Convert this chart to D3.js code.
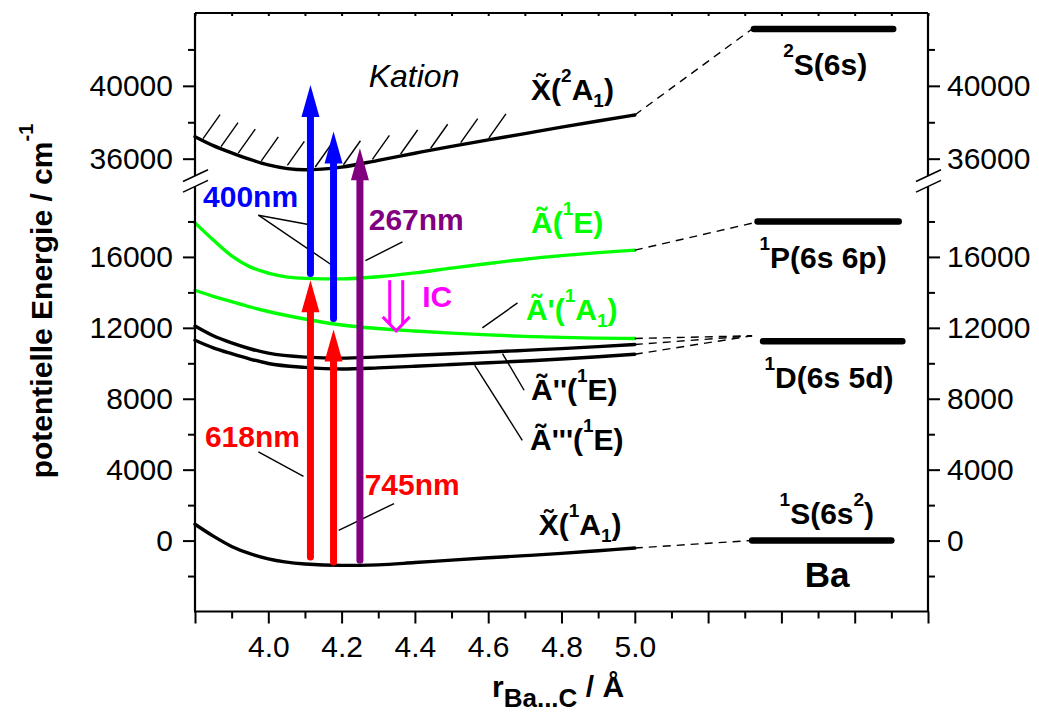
<!DOCTYPE html>
<html><head><meta charset="utf-8">
<script src="https://d3js.org/d3.v7.min.js"></script>
<style>
body{margin:0;background:#fff;}
svg{display:block;}
text{font-family:"Liberation Sans",Arial,Helvetica,sans-serif;}
</style></head>
<body>
<svg id="chart" width="1039" height="715"></svg>
<script>
// ---------------- data ----------------
const rGrid   = [3.8, 3.85, 3.9, 3.95, 4.0, 4.1, 4.2, 4.3, 4.4, 4.5, 4.6, 4.7, 4.8, 4.9, 5.0];
const eCation = [37210,36720,36320,35960,35660,35390,35540,35910,36300,36680,37030,37380,37730,38070,38400];
const eA      = [17920,16950,16060,15440,15090,14790,14760,14880,15100,15370,15630,15870,16070,16240,16380];
const eA1     = [14120,13780,13480,13180,12920,12500,12160,11960,11820,11700,11600,11520,11460,11420,11400];
const eA2     = [12100,11550,11150,10820,10570,10350,10290,10360,10450,10540,10630,10730,10830,10940,11060];
const eA3     = [11300,10870,10540,10240, 9990, 9770, 9680, 9740, 9830, 9930,10030,10130,10240,10370,10510];
const eX      = [  920,  250, -330, -740,-1030,-1320,-1400,-1370,-1240,-1100, -970, -850, -720, -570, -420];

// atomic Ba / Ba+ levels
const levelE  = [43120, 18000, 11250, 0];
const levelR0 = [5.325, 5.335, 5.35, 5.32];
const levelR1 = [5.705, 5.72, 5.73, 5.70];

// correlation (dashed) lines: from end of each curve to these points
const corrEndR = [5.32, 5.33, 5.32, 5.32, 5.32, 5.315];
const corrEndE = [43120, 17950, 11550, 11550, 11550, 0];

// excitation arrows
const arrowR    = [4.115, 4.178, 4.115, 4.178, 4.25];
const arrowFrom = [15060, 12520, -925, -1207, -1111];
const arrowTo   = [40050, 37490, 14690, 11900, 36570];

// IC arrow
const icR = 4.349, icFrom = 14690, icTo = 11830;

// hatch positions along the cation curve
const hatchR = [3.822,3.871,3.918,3.981,4.052,4.128,4.205,4.284,4.361,4.443,4.525,4.602];

// leader lines [r1, E1, r2, E2]
const leaders = [
  [3.973,18353,4.106,17845],
  [3.973,18353,4.174,15532],
  [4.366,16846,4.265,15790],
  [3.973, 4999,4.096, 3628],
  [4.343, 2087,4.192,  581],
  [4.680,13405,4.584,11995],
  [4.698, 8480,4.639,10550],
  [4.693, 5659,4.563, 9890]
];

// axis ticks
const xMajor   = [3.8,4.0,4.2,4.4,4.6,4.8,5.0,5.2,5.4,5.6,5.8];
const xMinor   = [3.9,4.1,4.3,4.5,4.7,4.9,5.1,5.3,5.5,5.7];
const xLabeled = [4.0,4.2,4.4,4.6,4.8,5.0];
const yLoMajor = [0,4000,8000,12000,16000];
const yLoMinor = [-2000,2000,6000,10000,14000,18000];
const yUpMajor = [36000,40000];
const yUpMinor = [38000,42000];

// text labels: parts [text, kind], position in data units
const labels = [
  {parts:[["400nm"]], r:3.822, E:18821, c:"#0000ff"},
  {parts:[["267nm"]], r:4.274, E:17506, c:"#800080"},
  {parts:[["618nm"]], r:3.827, E:5281,  c:"#ff0000"},
  {parts:[["745nm"]], r:4.263, E:2556,  c:"#ff0000"},
  {parts:[["IC"]],    r:4.420, E:13180, c:"#ff00ff"},
  {parts:[["X\u0303("],["2","sup"],["A"],["1","sub"],[")"]], r:4.717, E:39223, c:"#000"},
  {parts:[["\u00C3("],["1","sup"],["E)"]], r:4.717, E:17332, c:"#00ff00"},
  {parts:[["\u00C3'("],["1","sup"],["A"],["1","sub"],[")"]], r:4.703, E:12430, c:"#00ff00"},
  {parts:[["\u00C3''("],["1","sup"],["E)"]], r:4.717, E:7915, c:"#000"},
  {parts:[["\u00C3'''("],["1","sup"],["E)"]], r:4.714, E:5094, c:"#000"},
  {parts:[["X\u0303("],["1","sup"],["A"],["1","sub"],[")"]], r:4.738, E:299, c:"#000"},
  {parts:[["2","sup"],["S(6s)"]], r:5.405, E:40596, c:"#000"},
  {parts:[["1","sup"],["P(6s 6p)"]], r:5.340, E:15363, c:"#000"},
  {parts:[["1","sup"],["D(6s 5d)"]], r:5.354, E:8592, c:"#000"},
  {parts:[["1","sup"],["S(6s"],["2","sup"],[")"]], r:5.395, E:920, c:"#000"}
];

// ---------------- scales ----------------
const svg = d3.select("#chart");
const x   = d3.scaleLinear().domain([3.8, 5.8]).range([195, 928]);
const yLo = d3.scaleLinear().domain([-4000, 20000]).range([611.5, 186]);
const yUp = d3.scaleLinear().domain([34500, 44000]).range([186, 13]);
const yE  = v => v >= 25000 ? yUp(v) : yLo(v);
const X0 = x.range()[0], X1 = x.range()[1], Ytop = yUp.range()[1], Ybot = yLo.range()[0];
const breakY = 181.5;

// ---------------- curves ----------------
const line = (arr) => d3.line().x((d,i)=>x(rGrid[i])).y(d=>yE(d)).curve(d3.curveMonotoneX)(arr);
const curves = [
  {e:eCation, c:"#000"},
  {e:eA, c:"#00ff00"},
  {e:eA1, c:"#00ff00"},
  {e:eA2, c:"#000"},
  {e:eA3, c:"#000"},
  {e:eX, c:"#000"}
];
const gC = svg.append("g");
curves.forEach(cv => {
  gC.append("path").attr("d", line(cv.e)).attr("fill","none").attr("stroke",cv.c).attr("stroke-width",3.4).attr("stroke-linecap","round");
});

// hatching above cation curve
const cationAt = d3.scaleLinear().domain(rGrid).range(eCation);
hatchR.forEach(r => {
  const px = x(r), py = yUp(cationAt(r)) - 2;
  gC.append("line").attr("x1",px).attr("y1",py).attr("x2",px+17).attr("y2",py-24)
    .attr("stroke","#000").attr("stroke-width",1.4);
});

// correlation dashed lines
curves.forEach((cv,i) => {
  gC.append("line")
    .attr("x1", x(rGrid[rGrid.length-1])).attr("y1", yE(cv.e[cv.e.length-1]))
    .attr("x2", x(corrEndR[i])).attr("y2", yE(corrEndE[i]))
    .attr("stroke","#000").attr("stroke-width",1.4).attr("stroke-dasharray","8,6");
});

// atomic levels
levelE.forEach((e,i) => {
  gC.append("line").attr("x1",x(levelR0[i])).attr("x2",x(levelR1[i]))
    .attr("y1",yE(e)).attr("y2",yE(e))
    .attr("stroke","#000").attr("stroke-width",6.5).attr("stroke-linecap","round");
});

// leader lines
leaders.forEach(l => {
  gC.append("line").attr("x1",x(l[0])).attr("y1",yE(l[1])).attr("x2",x(l[2])).attr("y2",yE(l[3]))
    .attr("stroke","#000").attr("stroke-width",1.4);
});

// arrows
const arrowColors = ["#0000ff","#0000ff","#ff0000","#ff0000","#800080"];
const gA = svg.append("g");
arrowR.forEach((r,i) => {
  const px = x(r), y0 = yE(arrowFrom[i]), y1 = yE(arrowTo[i]);
  gA.append("line").attr("x1",px).attr("x2",px).attr("y1",y0).attr("y2",y1+28)
    .attr("stroke",arrowColors[i]).attr("stroke-width",7).attr("stroke-linecap","round");
  gA.append("path").attr("d",`M${px},${y1} L${px+9},${y1+32} L${px-9},${y1+32} Z`).attr("fill",arrowColors[i]);
});

// IC hollow arrow
{
  const px = x(icR), y0 = yE(icFrom), y1 = yE(icTo);
  const g = svg.append("g").attr("stroke","#ff00ff").attr("stroke-width",3).attr("fill","none");
  g.append("line").attr("x1",px-6.5).attr("x2",px-6.5).attr("y1",y0).attr("y2",y1-7);
  g.append("line").attr("x1",px+6.5).attr("x2",px+6.5).attr("y1",y0).attr("y2",y1-7);
  g.append("path").attr("d",`M${px-13.5},${y1-14} L${px},${y1} L${px+13.5},${y1-14}`);
}

// ---------------- axes ----------------
const gAx = svg.append("g");
const fmtY = d3.format("d");
function styleAxis(g, size){
  g.select(".domain").remove();
  g.selectAll(".tick line").attr("stroke","#000").attr("stroke-width",2);
  g.selectAll("text").attr("font-size",size).attr("fill","#000")
    .attr("font-family","'Liberation Sans',Arial,sans-serif");
  g.attr("font-family",null).attr("font-size",null);
}
// left
styleAxis(gAx.append("g").attr("transform",`translate(${X0},0)`).call(d3.axisLeft(yLo).tickValues(yLoMajor).tickFormat(fmtY).tickSize(12).tickPadding(10)),30);
styleAxis(gAx.append("g").attr("transform",`translate(${X0},0)`).call(d3.axisLeft(yLo).tickValues(yLoMinor).tickSize(7).tickFormat("")),30);
styleAxis(gAx.append("g").attr("transform",`translate(${X0},0)`).call(d3.axisLeft(yUp).tickValues(yUpMajor).tickFormat(fmtY).tickSize(12).tickPadding(10)),30);
styleAxis(gAx.append("g").attr("transform",`translate(${X0},0)`).call(d3.axisLeft(yUp).tickValues(yUpMinor).tickSize(7).tickFormat("")),30);
// right
styleAxis(gAx.append("g").attr("transform",`translate(${X1},0)`).call(d3.axisRight(yLo).tickValues(yLoMajor).tickFormat(fmtY).tickSize(12).tickPadding(7)),30);
styleAxis(gAx.append("g").attr("transform",`translate(${X1},0)`).call(d3.axisRight(yLo).tickValues(yLoMinor).tickSize(7).tickFormat("")),30);
styleAxis(gAx.append("g").attr("transform",`translate(${X1},0)`).call(d3.axisRight(yUp).tickValues(yUpMajor).tickFormat(fmtY).tickSize(12).tickPadding(7)),30);
styleAxis(gAx.append("g").attr("transform",`translate(${X1},0)`).call(d3.axisRight(yUp).tickValues(yUpMinor).tickSize(7).tickFormat("")),30);
// bottom
styleAxis(gAx.append("g").attr("transform",`translate(0,${Ybot})`).call(d3.axisBottom(x).tickValues(xMajor).tickSize(12).tickFormat(d => xLabeled.some(v=>Math.abs(v-d)<1e-9) ? d3.format(".1f")(d) : "").tickPadding(12)),30);
styleAxis(gAx.append("g").attr("transform",`translate(0,${Ybot})`).call(d3.axisBottom(x).tickValues(xMinor).tickSize(7).tickFormat("")),30);
// top (small inward ticks)
styleAxis(gAx.append("g").attr("transform",`translate(0,${Ytop})`).call(d3.axisBottom(x).tickValues(xMajor.concat(xMinor)).tickSize(3).tickFormat("")),30);

// frame
const fr = gAx.append("g").attr("stroke","#000").attr("stroke-width",2.2).attr("fill","none");
fr.append("line").attr("x1",X0).attr("x2",X1).attr("y1",Ytop).attr("y2",Ytop);
fr.append("line").attr("x1",X0-1).attr("x2",X1+1).attr("y1",Ybot).attr("y2",Ybot);
[X0,X1].forEach(ax => {
  fr.append("line").attr("x1",ax).attr("x2",ax).attr("y1",Ytop).attr("y2",breakY-5.5);
  fr.append("line").attr("x1",ax).attr("x2",ax).attr("y1",breakY+5.5).attr("y2",Ybot);
  fr.append("line").attr("x1",ax-12).attr("y1",breakY).attr("x2",ax+13).attr("y2",breakY-11.7).attr("stroke-width",1.6);
  fr.append("line").attr("x1",ax-12).attr("y1",breakY+10.6).attr("x2",ax+13).attr("y2",breakY-1.1).attr("stroke-width",1.6);
});

// ---------------- text ----------------
function rich(g, px, py, parts, size, color, anchor){
  const t = g.append("text").attr("x",px).attr("y",py).attr("font-size",size)
    .attr("font-weight","bold").attr("fill",color).attr("text-anchor",anchor||"start");
  let shift = 0;
  parts.forEach(p => {
    const s = p[0], k = p[1];
    const target = k==="sup" ? -18 : k==="sub" ? 7 : 0;
    t.append("tspan").attr("dy", target-shift).attr("font-size", k ? 19 : size).text(s);
    shift = target;
  });
  return t;
}
const gT = svg.append("g");
labels.forEach(l => rich(gT, x(l.r), yE(l.E), l.parts, 30, l.c));

gT.append("text").attr("x",x(4.274)).attr("y",yUp(39954)).attr("font-size",32)
  .attr("font-style","italic").attr("fill","#000").text("Kation");
gT.append("text").attr("x",x(5.464)).attr("y",yLo(-2618)).attr("font-size",35)
  .attr("font-weight","bold").attr("fill","#000").text("Ba");

// axis titles
{
  const t = gT.append("text").attr("transform","translate(52,301) rotate(-90)")
    .attr("text-anchor","middle").attr("font-size",30).attr("font-weight","bold").attr("fill","#000");
  t.append("tspan").text("potentielle Energie / cm");
  t.append("tspan").attr("dy",-19).attr("font-size",20).text("-1");
}
{
  const t = gT.append("text").attr("x",492).attr("y",697)
    .attr("font-size",30).attr("font-weight","bold").attr("fill","#000");
  t.append("tspan").text("r");
  t.append("tspan").attr("dy",10).attr("font-size",26).text("Ba...C");
  t.append("tspan").attr("dy",-10).text(" / \u00C5");
}
</script>
</body></html>
